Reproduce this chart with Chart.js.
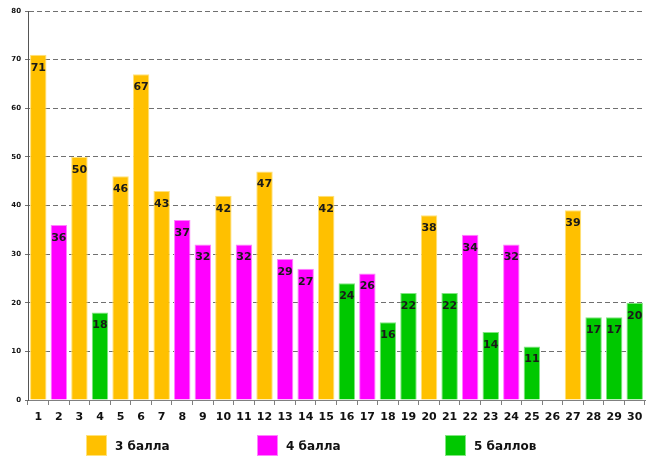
<!DOCTYPE html>
<html>
<head>
<meta charset="utf-8">
<script src="https://cdn.jsdelivr.net/npm/chart.js@4.4.1/dist/chart.umd.min.js"></script>
<style>
  html, body { margin: 0; padding: 0; background: #fff; }
  #wrap { width: 650px; height: 470px; position: relative; }
  .legend-item { position: absolute; top: 435px; display: flex; align-items: center;
    font: bold 12px "DejaVu Sans", sans-serif; color: #111; }
  .legend-box { width: 21px; height: 21px; margin-right: 8px; box-sizing: border-box; }
</style>
</head>
<body>
<div id="wrap"><canvas id="chart"></canvas></div>
<script>
const categories = ["1","2","3","4","5","6","7","8","9","10","11","12","13","14","15","16","17","18","19","20","21","22","23","24","25","26","27","28","29","30"];
const grade3 = [71, null, 50, null, 46, 67, 43, null, null, 42, null, 47, null, null, 42, null, null, null, null, 38, null, null, null, null, null, null, 39, null, null, null];
const grade4 = [null, 36, null, null, null, null, null, 37, 32, null, 32, null, 29, 27, null, null, 26, null, null, null, null, 34, null, 32, null, null, null, null, null, null];
const grade5 = [null, null, null, 18, null, null, null, null, null, null, null, null, null, null, null, 24, null, 16, 22, null, 22, null, 14, null, 11, null, null, 17, 17, 20];
const yTicks = [0, 10, 20, 30, 40, 50, 60, 70, 80];
const legendLeft = [86, 257, 445];

// value labels inside the top of each bar
const barLabels = {
  id: "barLabels",
  afterDatasetsDraw(chart) {
    const ctx = chart.ctx;
    ctx.save();
    ctx.font = "bold 11px 'DejaVu Sans'";
    ctx.fillStyle = "#1a1a1a";
    ctx.textAlign = "center";
    ctx.textBaseline = "middle";
    chart.data.datasets.forEach((ds, i) => {
      chart.getDatasetMeta(i).data.forEach((bar, j) => {
        const v = ds.data[j];
        if (v == null || v === 0) return;
        ctx.fillText(v, bar.x, bar.y + 13);
      });
    });
    ctx.restore();
  }
};

// solid y axis line on top of the dashed grid
const axisLine = {
  id: "axisLine",
  beforeDatasetsDraw(chart) {
    const { ctx, chartArea } = chart;
    ctx.save();
    ctx.strokeStyle = "#555";
    ctx.lineWidth = 1;
    ctx.setLineDash([]);
    ctx.beginPath();
    ctx.moveTo(chartArea.left + 0.5, chartArea.top);
    ctx.lineTo(chartArea.left + 0.5, chartArea.bottom);
    ctx.stroke();
    ctx.restore();
  }
};

const chart = new Chart(document.getElementById("chart").getContext("2d"), {
  type: "bar",
  data: {
    labels: categories,
    datasets: [
      { label: "3 балла", data: grade3, backgroundColor: "#FFC000", borderColor: "#FFE27A", borderWidth: 1 },
      { label: "4 балла", data: grade4, backgroundColor: "#FF00FF", borderColor: "#FF80FF", borderWidth: 1 },
      { label: "5 баллов", data: grade5, backgroundColor: "#00C800", borderColor: "#80E680", borderWidth: 1 }
    ]
  },
  options: {
    responsive: true,
    maintainAspectRatio: false,
    animation: false,
    layout: { padding: { left: 0, top: 11, right: 5, bottom: 45 } },
    datasets: { bar: { categoryPercentage: 0.8, barPercentage: 1.0 } },
    plugins: {
      legend: { display: false },
      tooltip: { enabled: false }
    },
    scales: {
      x: {
        stacked: true,
        grid: { display: true, drawOnChartArea: false, offset: true, color: "#808080", tickLength: 5 },
        border: { color: "#808080" },
        ticks: { color: "#111", padding: 6, font: { family: "DejaVu Sans", size: 11, weight: "bold" }, maxRotation: 0, autoSkip: false },
        afterFit(scale) { scale.height = 25; }
      },
      y: {
        stacked: true,
        min: 0,
        max: 80,
        afterBuildTicks(scale) { scale.ticks = yTicks.map(v => ({ value: v })); },
        grid: { color: "#707070", tickLength: 3, drawTicks: true },
        border: { color: "#555", dash: [5, 3] },
        ticks: { color: "#111", padding: 4, font: { family: "DejaVu Sans", size: 7, weight: "bold" } },
        afterFit(scale) { scale.width = 28; }
      }
    }
  },
  plugins: [barLabels, axisLine]
});

// legend from the datasets
const wrap = document.getElementById("wrap");
chart.data.datasets.forEach((ds, i) => {
  const item = document.createElement("div");
  item.className = "legend-item";
  item.style.left = legendLeft[i] + "px";
  const box = document.createElement("span");
  box.className = "legend-box";
  box.style.background = ds.backgroundColor;
  box.style.border = "1px solid " + ds.borderColor;
  const text = document.createElement("span");
  text.textContent = ds.label;
  item.appendChild(box);
  item.appendChild(text);
  wrap.appendChild(item);
});
</script>
</body>
</html>
